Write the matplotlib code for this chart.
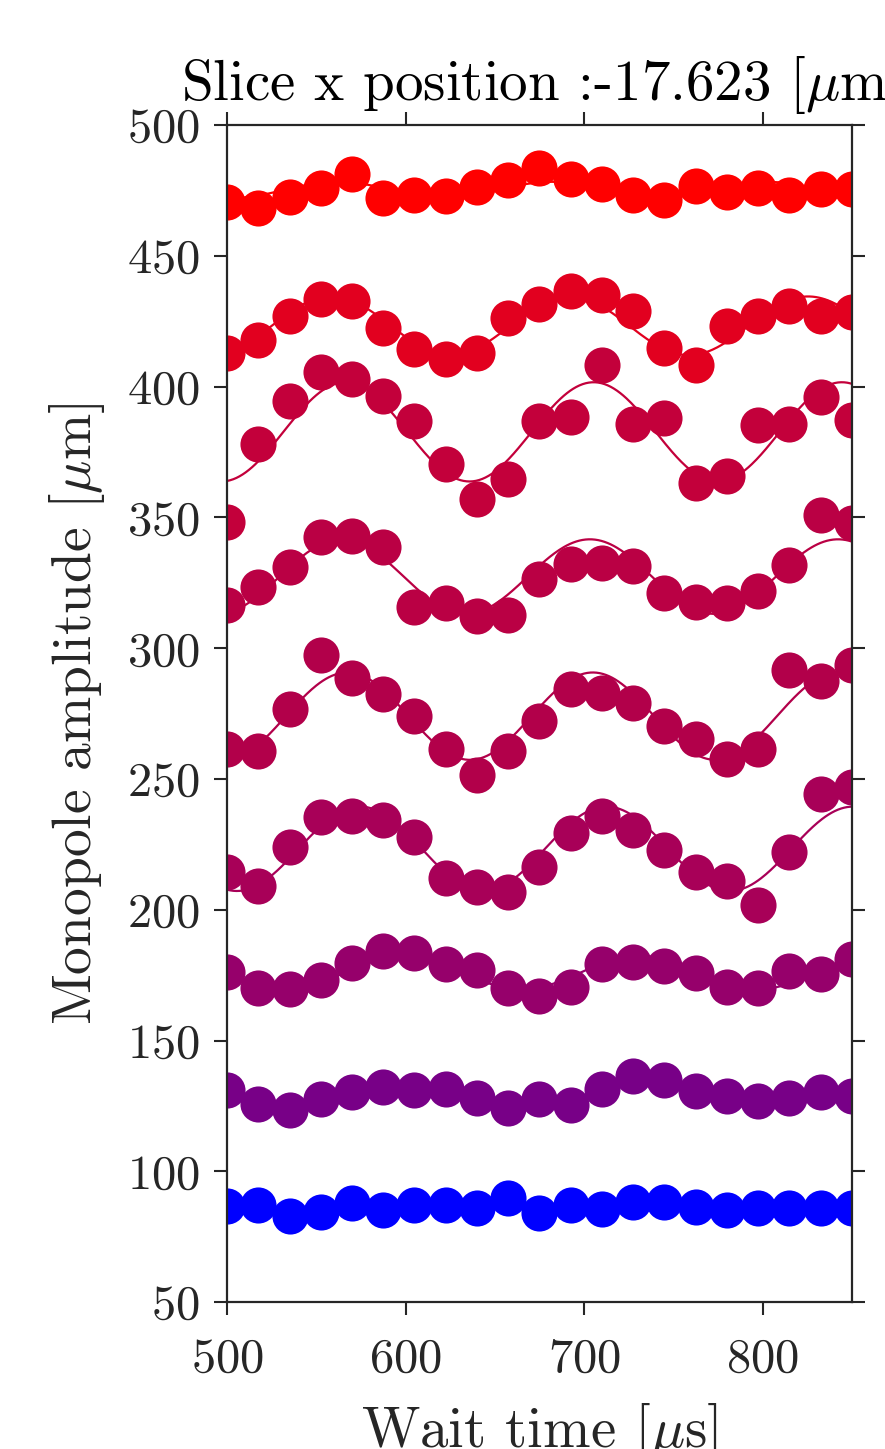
import numpy as np
import matplotlib
matplotlib.use("Agg")
import matplotlib.pyplot as plt

plt.rcParams['font.family'] = 'serif'
plt.rcParams['font.serif'] = ['cmr10']
plt.rcParams['mathtext.fontset'] = 'cm'
plt.rcParams['axes.formatter.use_mathtext'] = True

# wait times [us]
wait_time = np.arange(500, 850.1, 17.5)

# monopole amplitude per slice, top to bottom [um]
amp_1 = [470.7, 468.1, 472.6, 476.0, 481.1, 472.2, 473.2, 472.8, 476.2, 478.9, 483.6,
         479.2, 477.5, 473.4, 471.2, 476.6, 474.5, 476.0, 473.1, 475.4, 475.4]
amp_2 = [412.9, 418.0, 426.9, 433.6, 432.9, 422.5, 414.2, 410.4, 412.9, 426.3, 431.4,
         436.5, 435.2, 428.9, 414.9, 408.1, 423.1, 426.9, 430.8, 426.9, 428.6]
amp_3 = [348.2, 378.2, 394.5, 405.5, 403.0, 396.6, 386.8, 370.5, 356.9, 364.8, 386.8,
         388.5, 408.1, 385.8, 388.1, 363.3, 365.8, 385.3, 385.6, 396.0, 387.2]
amp_4 = [316.4, 323.5, 331.0, 342.6, 342.9, 338.7, 315.9, 317.4, 312.3, 312.6, 326.6,
         332.3, 332.7, 331.4, 321.0, 317.8, 317.2, 321.9, 331.8, 350.9, 347.7]
amp_5 = [261.6, 260.7, 276.9, 297.4, 288.5, 282.4, 273.9, 261.6, 251.4, 260.7, 272.3,
         284.5, 283.0, 279.2, 270.3, 265.2, 257.8, 261.4, 291.7, 287.5, 293.6]
amp_6 = [214.3, 209.1, 223.8, 235.3, 235.9, 234.4, 227.9, 212.1, 208.8, 206.6, 216.5,
         229.5, 235.9, 230.4, 222.8, 214.6, 211.0, 201.9, 221.9, 244.4, 247.1]
amp_7 = [176.3, 170.0, 169.7, 173.1, 179.6, 184.3, 183.4, 179.2, 176.9, 169.9, 167.0,
         170.3, 179.2, 179.9, 178.6, 176.0, 170.5, 169.9, 176.4, 175.4, 181.1]
amp_8 = [131.2, 125.7, 123.5, 127.6, 130.2, 132.3, 131.1, 131.5, 128.0, 124.1, 127.6,
         125.3, 131.4, 136.5, 135.0, 130.8, 128.9, 126.8, 127.9, 130.2, 128.9]
amp_9 = [86.9, 87.2, 83.0, 84.6, 87.8, 85.3, 87.2, 87.2, 85.9, 89.8, 84.0,
         87.1, 85.6, 88.4, 88.4, 86.5, 85.3, 86.0, 86.0, 86.0, 86.0]

series = [amp_1, amp_2, amp_3, amp_4, amp_5, amp_6, amp_7, amp_8, amp_9]
colors = ['#FF0000', '#E2001F', '#C3003B', '#BA0044', '#B2004A',
          '#A80058', '#96006B', '#780087', '#0000FF']


def sine_fit(x, y, periods):
    # least squares sine + offset, scanning the period
    best = None
    for T in periods:
        w = 2 * np.pi / T
        A = np.column_stack([np.sin(w * x), np.cos(w * x), np.ones_like(x)])
        coef = np.linalg.lstsq(A, y, rcond=None)[0]
        r = np.sum((A @ coef - y) ** 2)
        if best is None or r < best[0]:
            best = (r, w, coef)
    _, w, c = best
    xf = np.linspace(x[0], x[-1], 400)
    return xf, c[0] * np.sin(w * xf) + c[1] * np.cos(w * xf) + c[2]


fig = plt.figure(figsize=(8.85, 14.49), dpi=100)
ax = fig.add_axes([0.2565, 0.1014, 0.7062, 0.8123])

for y, c in zip(series, colors):
    y = np.array(y)
    xf, yf = sine_fit(wait_time, y, np.arange(120, 170, 0.5))
    ax.plot(xf, yf, color=c, lw=1.6)
    ax.plot(wait_time, y, 'o', color=c, markersize=26, markeredgewidth=0)

ax.set_xlim(500, 850)
ax.set_ylim(50, 500)
ax.set_xticks([500, 600, 700, 800])
ax.set_yticks(np.arange(50, 501, 50))

dark = '#262626'
for s in ax.spines.values():
    s.set_color(dark)
    s.set_linewidth(1.6)
ax.tick_params(direction='out', length=9.5, width=1.5, colors=dark,
               labelsize=35, top=True, right=True)
ax.tick_params(axis='x', pad=16)
ax.tick_params(axis='y', pad=10)

ax.set_title(r'Slice x position :-17.623 [$\mu$m]', fontsize=41, pad=18, color='black')
ax.set_xlabel(r'Wait time [$\mu$s]', fontsize=41, color=dark, labelpad=14)
ax.set_ylabel(r'Monopole amplitude [$\mu$m]', fontsize=40, color=dark, labelpad=14)

fig.savefig('out.png', dpi=100)
